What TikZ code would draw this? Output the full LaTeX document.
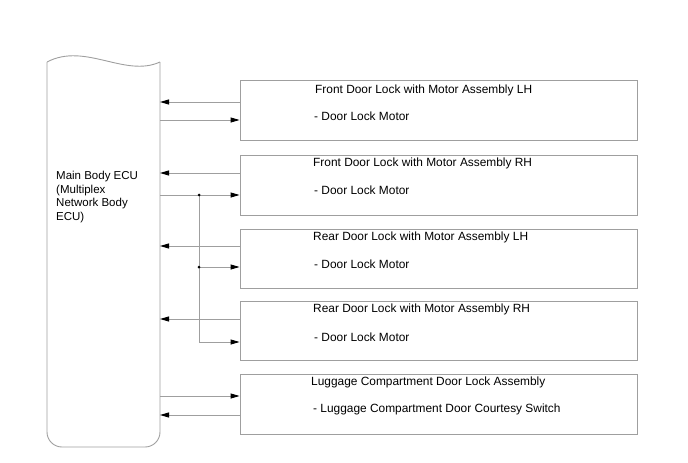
\documentclass[tikz,border=0pt]{standalone}
\usepackage{fontspec}
\setmainfont{Liberation Sans}
\usetikzlibrary{positioning,calc,arrows.meta}
\tikzset{
  figfont/.style={font=\fontsize{11.9}{13.5}\selectfont},
  figline/.style={draw=gray!75, line width=0.9pt},
  figbox/.style={figline, minimum width=397pt, minimum height=60pt, inner sep=0pt},
  figtext/.style={anchor=west, inner sep=0pt},
  figarrow/.style={figline, -{Triangle[length=9pt, width=5pt, color=black]}},
  figdot/.style={circle, fill=black, inner sep=0pt, minimum size=3pt},
}
\begin{document}
\begin{tikzpicture}[x=1pt, y=-1pt, figfont]
	\useasboundingbox (0,0) rectangle (688,463);

	% ECU body
	\draw[figline, rounded corners=15pt] (160,62) -- (160,447) -- (47,447) -- (47,62);
	\draw[figline] (47,62) .. controls (85,42) and (125,78) .. (160,62);
	\node[anchor=north west, inner sep=0pt, align=left,
		font=\fontsize{11.5}{13.5}\selectfont] (ecutext) at (56,171)
		{Main Body ECU\\(Multiplex\\Network Body\\ECU)};
	\coordinate (ecu) at (160,250);

	% Door lock boxes
	\node[figbox] (box1) at (438.5,110) {};
	\node[figbox] (box2) at (438.5,185) {};
	\node[figbox, minimum height=59pt] (box3) at (438.5,258.5) {};
	\node[figbox, minimum height=59pt] (box4) at (438.5,330.5) {};
	\node[figbox] (box5) at (438.5,404) {};

	\node[figtext] (t1) at (315,90) {Front Door Lock with Motor Assembly LH};
	\node[figtext] (s1) at (314,116) {- Door Lock Motor};
	\node[figtext] (t2) at (313,163) {Front Door Lock with Motor Assembly RH};
	\node[figtext] (s2) at (314,190) {- Door Lock Motor};
	\node[figtext] (t3) at (313,237) {Rear Door Lock with Motor Assembly LH};
	\node[figtext] (s3) at (314,264) {- Door Lock Motor};
	\node[figtext] (t4) at (313,309) {Rear Door Lock with Motor Assembly RH};
	\node[figtext] (s4) at (314,337) {- Door Lock Motor};
	\node[figtext] (t5) at (311,382) {Luggage Compartment Door Lock Assembly};
	\node[figtext] (s5) at (313,409) {- Luggage Compartment Door Courtesy Switch};

	% Signals back to the ECU
	\draw[figarrow] (box1.west |- 0,102) -- (ecu |- 0,102);
	\draw[figarrow] (box2.west |- 0,173) -- (ecu |- 0,173);
	\draw[figarrow] (box3.west |- 0,246) -- (ecu |- 0,246);
	\draw[figarrow] (box4.west |- 0,319) -- (ecu |- 0,319);
	\draw[figarrow] (box5.west |- 0,415) -- (ecu |- 0,415);

	% Motor drive lines
	\draw[figarrow] (ecu |- 0,120) -- (box1.west |- 0,120);
	\draw[figarrow] (ecu |- 0,396) -- (box5.west |- 0,396);
	\coordinate (j1) at (199,195);
	\coordinate (j2) at (199,267);
	\draw[figarrow] (ecu |- j1) -- (box2.west |- j1);
	\draw[figarrow] (j2) -- (box3.west |- j2);
	\draw[figarrow] (j1) -- (j1 |- 0,342) -- (box4.west |- 0,342);
	\node[figdot] at (j1) {};
	\node[figdot] at (j2) {};
\end{tikzpicture}
\end{document}
